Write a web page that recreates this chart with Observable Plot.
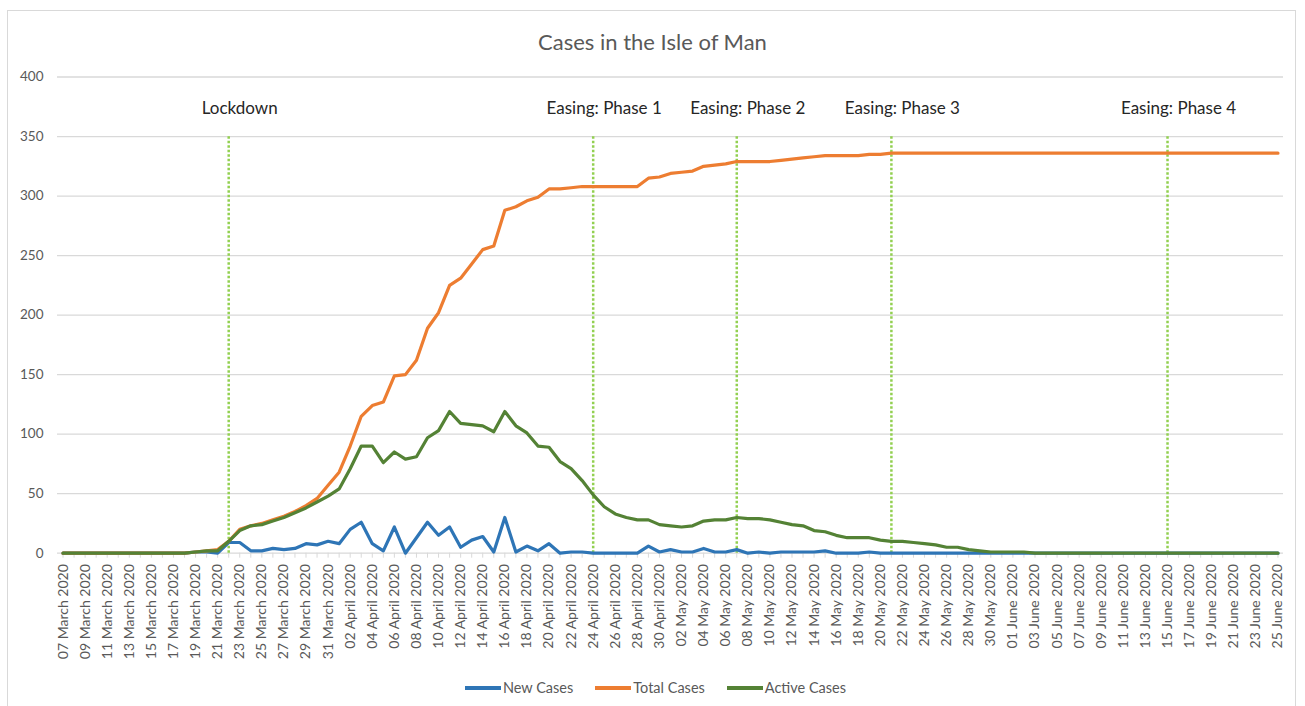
<!DOCTYPE html>
<html>
<head>
<meta charset="utf-8">
<script src="https://cdn.jsdelivr.net/npm/d3@7"></script>
<script src="https://cdn.jsdelivr.net/npm/@observablehq/plot@0.6"></script>
<style>
  html, body { margin: 0; padding: 0; background: #fff; }
  body { width: 1305px; height: 706px; position: relative; overflow: hidden; font-family: Lato, "Open Sans", sans-serif; }
  #box { position: absolute; left: 7px; top: 10px; width: 1289px; height: 700px; border: 1px solid #d9d9d9; box-sizing: border-box; }
  #title { position: absolute; left: 0; top: 29px; width: 1305px; text-align: center; font-size: 22px; line-height: 26px; color: #595959; }
  #chart { position: absolute; left: 0; top: 0; }
  #legend { position: absolute; left: 3px; top: 679px; width: 1305px; display: flex; justify-content: center; gap: 22px; font-size: 14.5px; line-height: 18px; color: #595959; }
  .item { display: flex; align-items: center; gap: 2px; }
  .swatch { width: 36px; height: 3.5px; display: inline-block; }
</style>
</head>
<body>
<div id="box"></div>
<div id="title">Cases in the Isle of Man</div>
<div id="chart"></div>
<div id="legend"></div>
<script>
// Categories: daily dates from 07 March 2020 to 25 June 2020
const startDate = "2020-03-07";
const endDate = "2020-06-25";

const seriesNames = ["New Cases", "Total Cases", "Active Cases"];
const seriesColors = ["#2E75B6", "#ED7D31", "#548235"];

const newCases = [
  0,0,0,0,0,0,0,0,0,0,0,0,
  1,1,0,9,9,2,2,4,3,4,8,7,10,8,20,26,8,2,22,0,13,26,15,22,5,11,14,1,30,1,6,2,8,0,
  1,1,0,0,0,0,0,6,1,3,1,1,4,1,1,3,0,1,0,1,1,1,1,2,0,0,0,1,0,
  0,0,0,0,0,0,0,0,0,0,0,0,0,0,0,0,0,0,0,0,0,0,0,0,0,0,0,0,0,0,0,0,0,0,0,0
];
const totalCases = [
  0,0,0,0,0,0,0,0,0,0,0,0,
  1,2,3,10,20,23,25,28,31,35,40,46,57,68,90,115,124,127,149,150,162,189,202,225,231,243,255,258,288,291,296,299,306,306,
  307,308,308,308,308,308,308,315,316,319,320,321,325,326,327,329,329,329,329,330,331,332,333,334,334,334,334,335,335,
  336,336,336,336,336,336,336,336,336,336,336,336,336,336,336,336,336,336,336,336,336,336,336,336,336,336,336,336,336,336,336,336,336,336,336,336
];
const activeCases = [
  0,0,0,0,0,0,0,0,0,0,0,0,
  1,2,2,10,19,23,24,27,30,34,38,43,48,54,71,90,90,76,85,79,81,97,103,119,109,108,107,102,119,107,101,90,89,77,
  71,61,49,39,33,30,28,28,24,23,22,23,27,28,28,30,29,29,28,26,24,23,19,18,15,13,13,13,11,
  10,10,9,8,7,5,5,3,2,1,1,1,1,0,0,0,0,0,0,0,0,0,0,0,0,0,0,0,0,0,0,0,0,0,0,0
];
const seriesValues = [newCases, totalCases, activeCases];

const yTicks = [0, 50, 100, 150, 200, 250, 300, 350, 400];

const eventDates = ["2020-03-22", "2020-04-24", "2020-05-07", "2020-05-21", "2020-06-15"];
const eventLabels = ["Lockdown", "Easing: Phase 1", "Easing: Phase 2", "Easing: Phase 3", "Easing: Phase 4"];
const eventTop = 350;

// Build tables
const dates = d3.utcDay.range(new Date(startDate), d3.utcDay.offset(new Date(endDate), 1));
const labelDates = dates.filter((d, i) => i % 2 === 0);
const rows = [];
seriesNames.forEach((name, s) => {
  seriesValues[s].forEach((v, i) => rows.push({date: dates[i], value: v, series: name}));
});
const events = eventDates.map((d, i) => ({date: new Date(d), label: eventLabels[i]}));

const xDomain = [d3.utcHour.offset(dates[0], -12), d3.utcHour.offset(dates[dates.length - 1], 12)];

const chart = Plot.plot({
  width: 1305,
  height: 706,
  marginLeft: 57,
  marginRight: 22,
  marginTop: 76.5,
  marginBottom: 153.3,
  style: {fontFamily: "Lato, 'Open Sans', sans-serif", background: "transparent"},
  x: {type: "utc", domain: xDomain},
  y: {domain: [0, 400]},
  color: {domain: seriesNames, range: seriesColors},
  marks: [
    Plot.ruleY(yTicks, {stroke: "#d9d9d9", strokeWidth: 1.3}),
    Plot.axisY({ticks: yTicks, tickSize: 0, tickPadding: 14, color: "#595959", fontSize: 13.5, label: null}),
    Plot.axisX({ticks: dates, tickSize: 5, tickFormat: () => "", stroke: "#d9d9d9", label: null}),
    Plot.axisX({ticks: labelDates, tickSize: 0, tickPadding: 11, tickRotate: -90, tickFormat: d3.utcFormat("%d %B %Y"), color: "#595959", fontSize: 14, label: null}),
    Plot.ruleX(events, {x: "date", y1: 0, y2: eventTop, stroke: "#92D050", strokeWidth: 2.5, strokeDasharray: "2.5,2"}),
    Plot.text(events, {x: "date", text: "label", frameAnchor: "top", dy: 25, dx: 11, fill: "#262626", fontSize: 17}),
    Plot.line(rows, {x: "date", y: "value", z: "series", stroke: "series", strokeWidth: 3.2, strokeLinejoin: "round", strokeLinecap: "round"})
  ]
});
document.getElementById("chart").appendChild(chart);

// Legend
const legend = document.getElementById("legend");
seriesNames.forEach((name, i) => {
  const item = document.createElement("div");
  item.className = "item";
  const sw = document.createElement("span");
  sw.className = "swatch";
  sw.style.background = seriesColors[i];
  const t = document.createElement("span");
  t.textContent = name;
  item.appendChild(sw);
  item.appendChild(t);
  legend.appendChild(item);
});
</script>
</body>
</html>
